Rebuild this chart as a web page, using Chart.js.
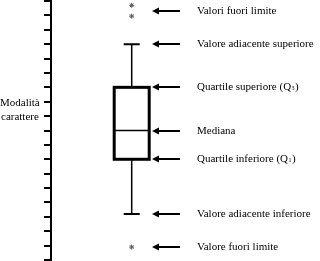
<!DOCTYPE html>
<html>
<head>
<meta charset="utf-8">
<script src="https://cdn.jsdelivr.net/npm/chart.js@4"></script>
<style>
html, body { margin: 0; padding: 0; background: #fff; }
#wrap { width: 320px; height: 261px; }
</style>
</head>
<body>
<div id="wrap"><canvas id="chart"></canvas></div>
<script>
// values, in axis units (0..18)
var axisRange = [0, 18];
var outliersHigh = [17.7, 16.95];
var adjacentHigh = 15;
var q3 = 12;
var median = 9;
var q1 = 7;
var adjacentLow = 3.2;
var outliersLow = [0.9];

var axisTitle = ['Modalità', 'carattere'];
var captions = ['Valori fuori limite', 'Valore adiacente superiore', 'Quartile superiore (Q', 'Mediana',
    'Quartile inferiore (Q', 'Valore adiacente inferiore', 'Valore fuori limite'];
var subscripts = ['', '', '3', '', '1', '', ''];
var captionValues = [
    (outliersHigh[0] + outliersHigh[1]) / 2, adjacentHigh, q3, median, q1, adjacentLow, outliersLow[0]
];

var boxX = 3;
var outlierPoints = outliersHigh.concat(outliersLow).map(function(v) { return { x: boxX, y: v }; });

var serif = '"Liberation Serif", "Times New Roman", serif';

var boxPlugin = {
    id: 'boxPlugin',
    beforeDatasetsDraw: function(chart) {
        var ctx = chart.ctx;
        var xs = chart.scales.x, ys = chart.scales.y;
        var cx = xs.getPixelForValue(boxX);
        var half = 17.5, cap = 8;
        ctx.save();
        ctx.strokeStyle = '#000';
        // whiskers
        ctx.lineWidth = 1.5;
        ctx.beginPath();
        ctx.moveTo(cx, ys.getPixelForValue(adjacentHigh));
        ctx.lineTo(cx, ys.getPixelForValue(q3));
        ctx.moveTo(cx, ys.getPixelForValue(q1));
        ctx.lineTo(cx, ys.getPixelForValue(adjacentLow));
        ctx.stroke();
        ctx.lineWidth = 2;
        ctx.beginPath();
        ctx.moveTo(cx - cap, ys.getPixelForValue(adjacentHigh));
        ctx.lineTo(cx + cap, ys.getPixelForValue(adjacentHigh));
        ctx.moveTo(cx - cap, ys.getPixelForValue(adjacentLow));
        ctx.lineTo(cx + cap, ys.getPixelForValue(adjacentLow));
        ctx.stroke();
        // box
        ctx.lineWidth = 3;
        var top = ys.getPixelForValue(q3), bot = ys.getPixelForValue(q1);
        ctx.strokeRect(cx - half, top, half * 2, bot - top);
        ctx.lineWidth = 1.5;
        ctx.beginPath();
        ctx.moveTo(cx - half, ys.getPixelForValue(median));
        ctx.lineTo(cx + half, ys.getPixelForValue(median));
        ctx.stroke();

        // arrows and captions
        var ax1 = 152, ax2 = 180, tx = 197;
        ctx.fillStyle = '#000';
        ctx.textBaseline = 'middle';
        captionValues.forEach(function(v, i) {
            var y = Math.round(ys.getPixelForValue(v));
            ctx.lineWidth = 2;
            ctx.beginPath();
            ctx.moveTo(ax1 + 5, y);
            ctx.lineTo(ax2, y);
            ctx.stroke();
            ctx.beginPath();
            ctx.moveTo(ax1, y);
            ctx.lineTo(ax1 + 7, y - 3.5);
            ctx.lineTo(ax1 + 7, y + 3.5);
            ctx.closePath();
            ctx.fill();
            ctx.font = '11px ' + serif;
            ctx.fillText(captions[i], tx, y);
            if (subscripts[i]) {
                var w = ctx.measureText(captions[i]).width;
                ctx.font = '6px ' + serif;
                ctx.fillText(subscripts[i], tx + w + 0.5, y + 1.5);
                var sw = ctx.measureText(subscripts[i]).width;
                ctx.font = '11px ' + serif;
                ctx.fillText(')', tx + w + sw + 1, y);
            }
        });

        // axis title
        ctx.font = '11px ' + serif;
        ctx.textAlign = 'left';
        ctx.fillText(axisTitle[0], 0, 103);
        ctx.fillText(axisTitle[1], 1, 117);
        ctx.restore();
    }
};

new Chart(document.getElementById('chart').getContext('2d'), {
    type: 'scatter',
    data: {
        datasets: [{
            data: outlierPoints,
            pointStyle: 'star',
            radius: 2.5,
            borderWidth: 1,
            borderColor: '#555',
            backgroundColor: '#555',
            clip: false
        }]
    },
    options: {
        responsive: true,
        maintainAspectRatio: false,
        animation: false,
        layout: { autoPadding: false, padding: { top: 1, bottom: 1, left: 0, right: 0 } },
        plugins: { legend: { display: false }, tooltip: { enabled: false } },
        scales: {
            x: { type: 'linear', min: 0, max: 10, display: false },
            y: {
                type: 'linear',
                min: axisRange[0],
                max: axisRange[1],
                ticks: { display: false, stepSize: 1 },
                grid: { drawOnChartArea: false, drawTicks: true, tickLength: 7, lineWidth: 2, color: '#000' },
                border: { display: true, width: 2, color: '#000' },
                afterFit: function(scale) { scale.width = 51; }
            }
        }
    },
    plugins: [boxPlugin]
});
</script>
</body>
</html>
